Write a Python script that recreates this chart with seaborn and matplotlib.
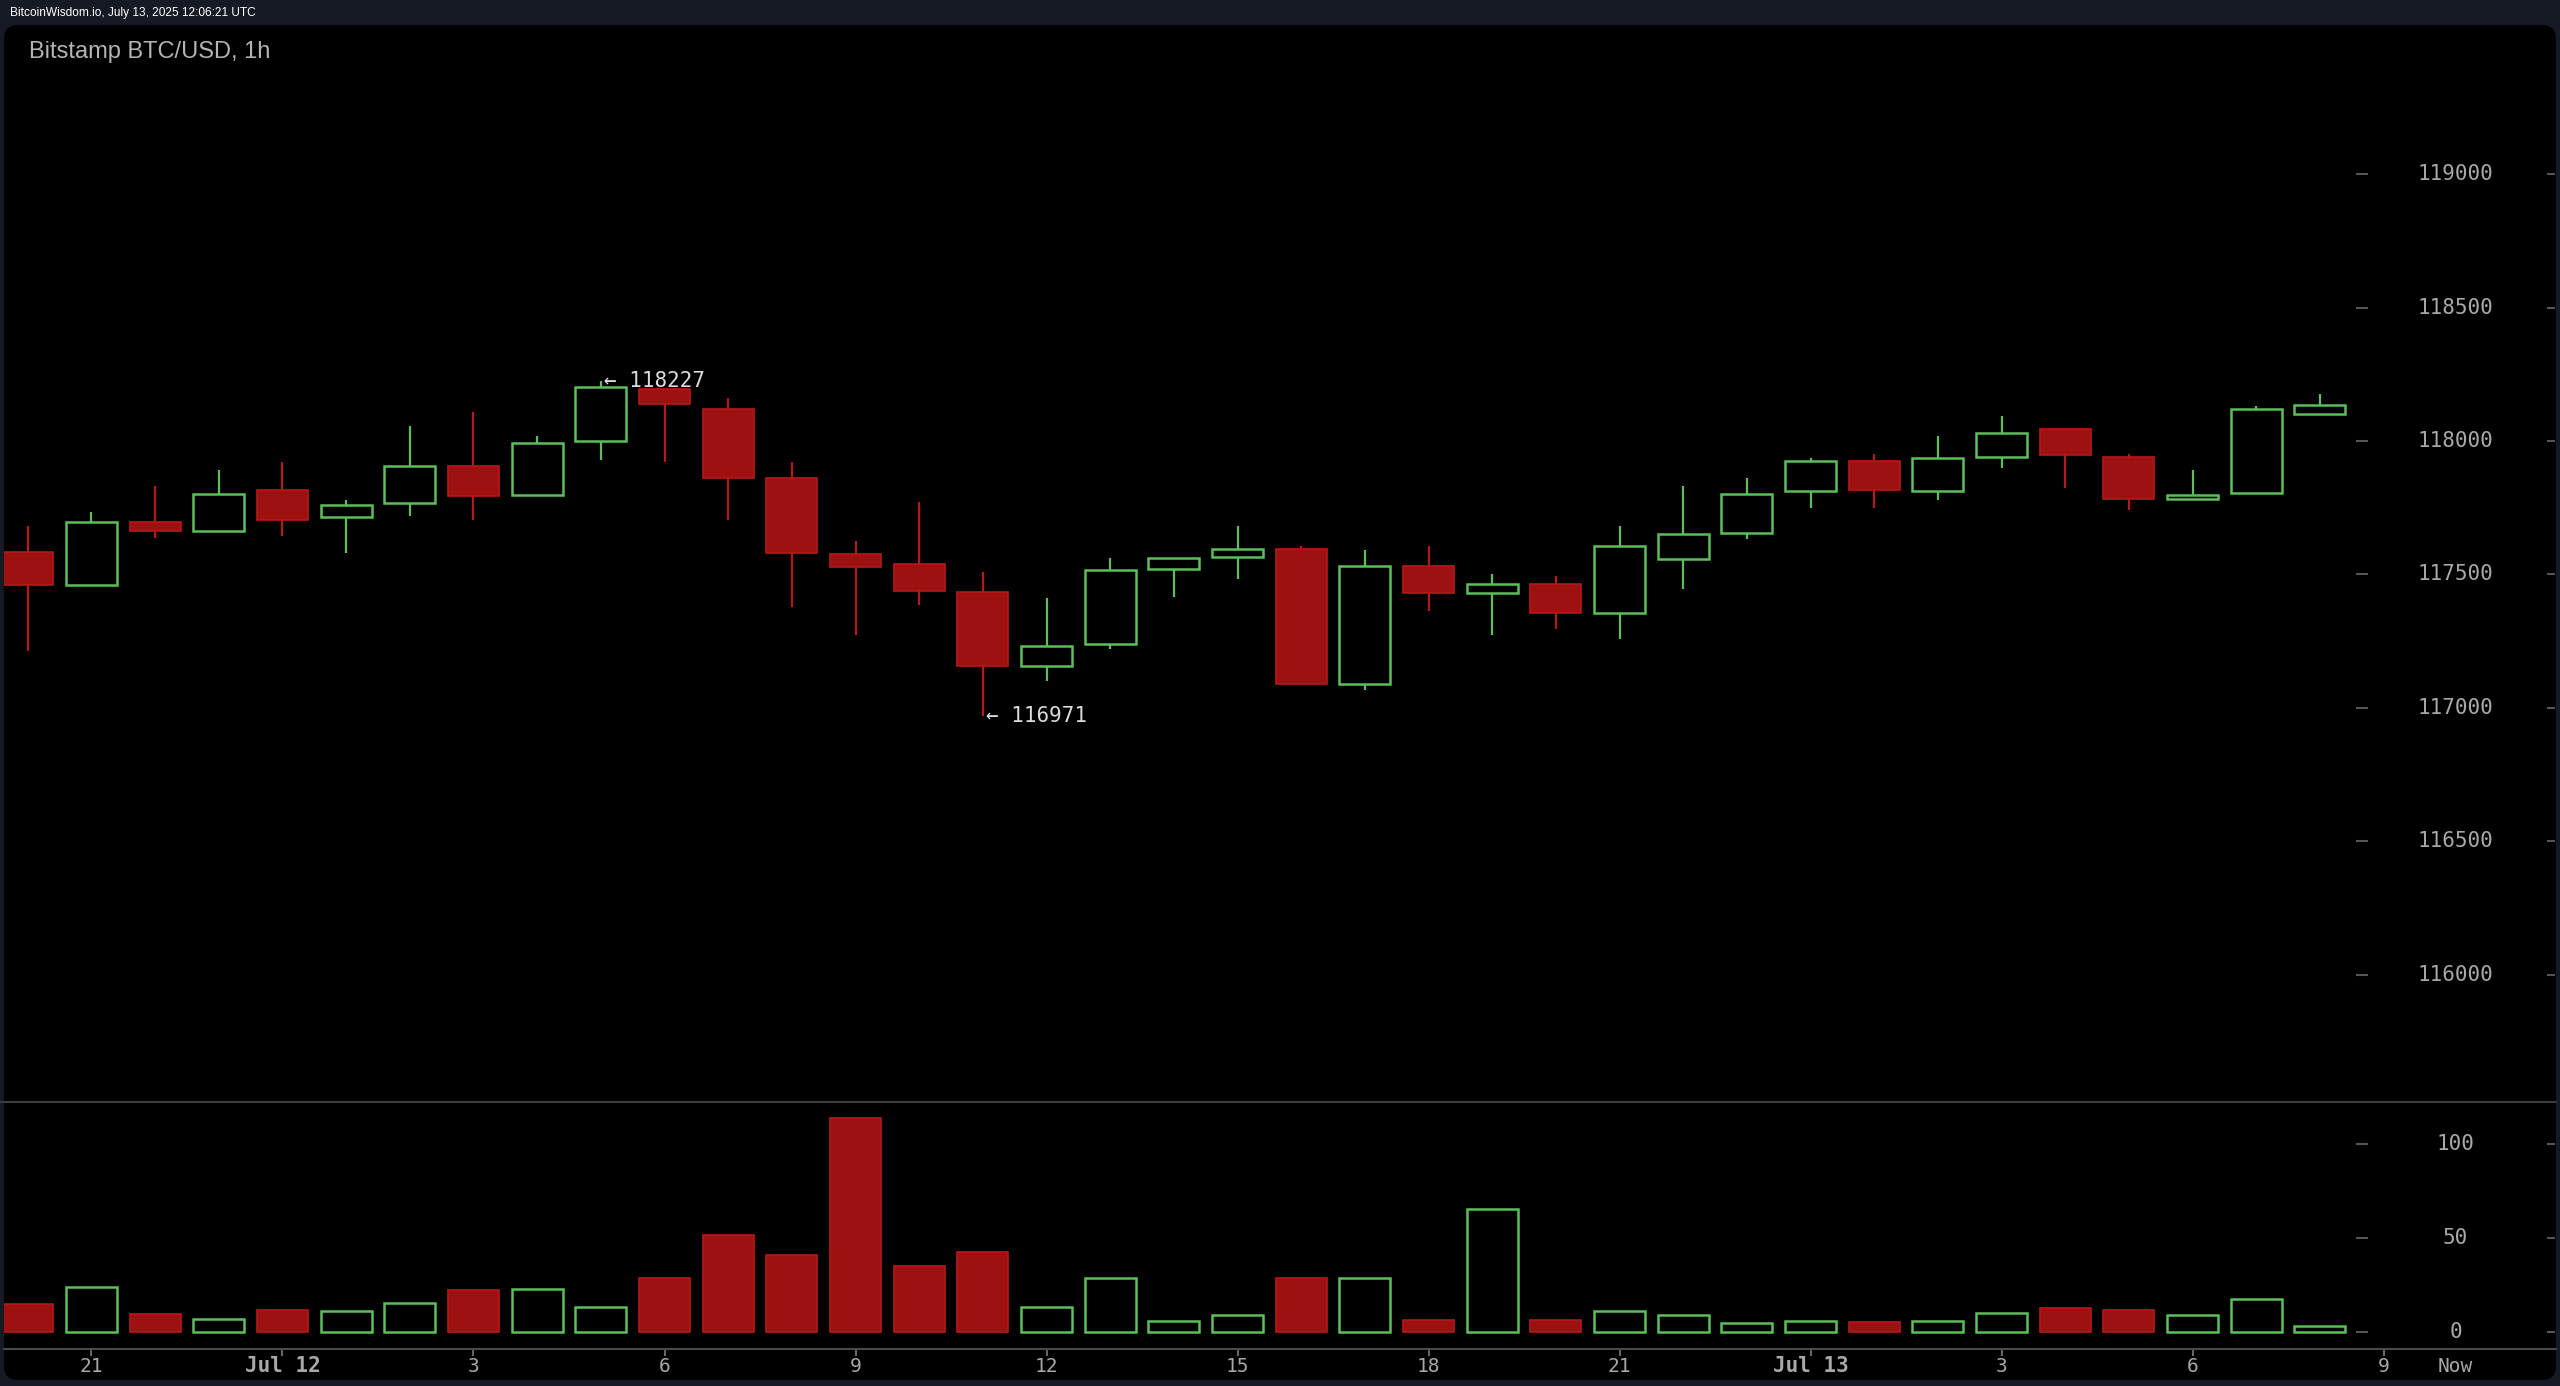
import numpy as np
import pandas as pd
import seaborn as sns
import matplotlib
matplotlib.use("Agg")
import matplotlib.pyplot as plt
from matplotlib.patches import FancyBboxPatch
from matplotlib.lines import Line2D
import matplotlib.transforms as mtransforms

# Hourly candles, Jul 11 20:00 -> Jul 13 08:00
opens = [117583, 117460, 117695, 117661, 117815, 117715, 117767, 117905, 117797, 117999,
         118196, 118121, 117860, 117577, 117539, 117435, 117155, 117238, 117521, 117566,
         117597, 117088, 117531, 117431, 117463, 117357, 117557, 117656, 117812, 117926,
         117812, 117940, 118046, 117941, 117782, 117805, 118103]
closes = [117460, 117695, 117661, 117800, 117705, 117762, 117905, 117795, 117994, 118202,
          118140, 117863, 117580, 117527, 117437, 117155, 117232, 117516, 117561, 117597,
          117088, 117531, 117431, 117463, 117356, 117605, 117650, 117800, 117926, 117818,
          117935, 118031, 117946, 117781, 117799, 118121, 118135]
highs = [117682, 117733, 117831, 117891, 117921, 117779, 118055, 118108, 118019, 118227,
         118196, 118160, 117921, 117624, 117771, 117510, 117413, 117562, 117561, 117682,
         117607, 117591, 117607, 117503, 117493, 117682, 117831, 117861, 117936, 117951,
         118019, 118094, 118046, 117951, 117891, 118130, 118175]
lows = [117214, 117460, 117638, 117661, 117645, 117579, 117720, 117705, 117797, 117930,
        117921, 117705, 117377, 117272, 117385, 116971, 117101, 117222, 117415, 117482,
        117088, 117066, 117363, 117272, 117295, 117258, 117444, 117631, 117750, 117750,
        117778, 117900, 117825, 117742, 117782, 117805, 118103]
volumes = [14.6, 23.9, 9.3, 7.0, 11.4, 11.1, 15.5, 22, 23, 13.4,
           28.6, 51.8, 41, 113.8, 34.8, 42.3, 13.4, 28.4, 5.9, 9.1,
           28.6, 28.4, 6.1, 65.5, 6.1, 11.1, 8.9, 4.8, 5.9, 5,
           5.9, 10.2, 12.5, 11.4, 8.9, 17.7, 2.9]

price_ticks = [116000, 116500, 117000, 117500, 118000, 118500, 119000]
volume_ticks = [0, 50, 100]
xtick_pos = [1, 4, 7, 10, 13, 16, 19, 22, 25, 28, 31, 34, 37]
xtick_labels = ['21', 'Jul 12', '3', '6', '9', '12', '15', '18', '21', 'Jul 13', '3', '6', '9']

GREEN = '#5cbf5c'
RED_FILL = '#9e1111'
RED_EDGE = '#b71818'
GRAY = '#a8a8a8'

sns.set_theme(style="dark", rc={"axes.facecolor": "none", "figure.facecolor": "#161a24"})
plt.rcParams['font.family'] = ['DejaVu Sans Mono', 'DejaVu Sans']

W, H = 2560, 1386
fig = plt.figure(figsize=(W / 100, H / 100), dpi=100)
fig.patch.set_facecolor('#161a24')

# black rounded panel, behind the axes
panel = FancyBboxPatch((0.04, 0.06), 25.52, 13.55, boxstyle="round,pad=0,rounding_size=0.14",
                       transform=fig.dpi_scale_trans, facecolor='black', edgecolor='none', zorder=-10)
fig.patches.append(panel)

ax = fig.add_axes([4 / W, 1 - 1102 / H, 2552 / W, (1102 - 25) / H])
axv = fig.add_axes([4 / W, 1 - 1349 / H, 2552 / W, (1349 - 1102) / H])

xlim = ((4 - 27.8) / 63.67, (2556 - 27.8) / 63.67)
label_x = (2455.6 - 27.8) / 63.67

df = pd.DataFrame({'idx': np.arange(len(opens)), 'open': opens, 'close': closes,
                   'high': highs, 'low': lows, 'vol': volumes})
df['up'] = df['close'] >= df['open']
df['body_lo'] = df[['open', 'close']].min(axis=1)
df['body_hi'] = df[['open', 'close']].max(axis=1)
colors = np.where(df['up'], GREEN, RED_EDGE)

# wicks
ax.vlines(df['idx'], df['low'], df['body_lo'], colors=colors, lw=1.6, zorder=2)
ax.vlines(df['idx'], df['body_hi'], df['high'], colors=colors, lw=1.6, zorder=2)

# bodies
up = df[df['up']]
dn = df[~df['up']]
ax.bar(up['idx'], up['body_hi'] - up['body_lo'], bottom=up['body_lo'], width=0.8,
       facecolor='black', edgecolor=GREEN, linewidth=1.8, zorder=3)
ax.bar(dn['idx'], dn['body_hi'] - dn['body_lo'], bottom=dn['body_lo'], width=0.8,
       facecolor=RED_FILL, edgecolor=RED_EDGE, linewidth=1.2, zorder=3)

ax.set_xlim(*xlim)
ax.set_ylim(115522, 119560)
ax.set_axis_off()

# price axis labels
ax.hlines(price_ticks, 36.57, 36.75, colors='#555555', lw=1.5)
ax.hlines(price_ticks, 39.56, 39.69, colors='#555555', lw=1.5)
for t in price_ticks:
    ax.text(label_x, t, str(t), ha='center', va='center', color=GRAY, fontsize=15)

# high / low annotations
i_hi = int(np.argmax(highs))
i_lo = int(np.argmin(lows))
ax.text(i_hi + 0.05, highs[i_hi], '\u2190 %d' % highs[i_hi], ha='left', va='center',
        color='#dddddd', fontsize=15)
ax.text(i_lo + 0.05, lows[i_lo], '\u2190 %d' % lows[i_lo], ha='left', va='center',
        color='#dddddd', fontsize=15)

# volume bars
sns.barplot(data=df[df['up']], x='idx', y='vol', native_scale=True, fill=False, color=GREEN,
            saturation=1, width=0.8, linewidth=1.8, errorbar=None, ax=axv)
sns.barplot(data=df[~df['up']], x='idx', y='vol', native_scale=True, color=RED_FILL,
            saturation=1, width=0.8, edgecolor=RED_EDGE, linewidth=1.2, errorbar=None, ax=axv)
axv.set_xlim(*xlim)
axv.set_ylim(-9.2, 122.4)
axv.set_axis_off()

axv.hlines(volume_ticks, 36.57, 36.75, colors='#555555', lw=1.5)
axv.hlines(volume_ticks, 39.56, 39.69, colors='#555555', lw=1.5)
for t in volume_ticks:
    axv.text(label_x, t, str(t), ha='center', va='center', color=GRAY, fontsize=15)

# time axis
axv.vlines(xtick_pos, -9.2, -13.0, colors='#666666', lw=1.5, clip_on=False)
lab_trans = mtransforms.blended_transform_factory(axv.transData, fig.transFigure)
for p, lab in zip(xtick_pos, xtick_labels):
    bold = lab.startswith('Jul')
    axv.text(p, 1 - 1366 / H, lab, transform=lab_trans, ha='center', va='center',
             color=GRAY, fontsize=15 if bold else 14, fontweight='bold' if bold else 'normal')
axv.text(label_x, 1 - 1366 / H, 'Now', transform=lab_trans, ha='center', va='center',
         color=GRAY, fontsize=14)

# panel separators
fig.add_artist(Line2D([0, 2556 / W], [1 - 1102 / H] * 2, transform=fig.transFigure,
                      color='#3c3c3c', lw=1.5))
fig.add_artist(Line2D([4 / W, 2556 / W], [1 - 1349 / H] * 2, transform=fig.transFigure,
                      color='#4a4a4a', lw=1.5))

# header and title
fig.text(10 / W, 1 - 13 / H, 'BitcoinWisdom.io, July 13, 2025 12:06:21 UTC', fontsize=8.6,
         color='white', family=['Liberation Sans', 'DejaVu Sans'], va='center')
fig.text(29 / W, 1 - 52 / H, 'Bitstamp BTC/USD, 1h', fontsize=17, color='#b4b4b4',
         family=['Liberation Sans', 'DejaVu Sans'], va='center')

fig.savefig('out.png', dpi=100, facecolor=fig.get_facecolor())
